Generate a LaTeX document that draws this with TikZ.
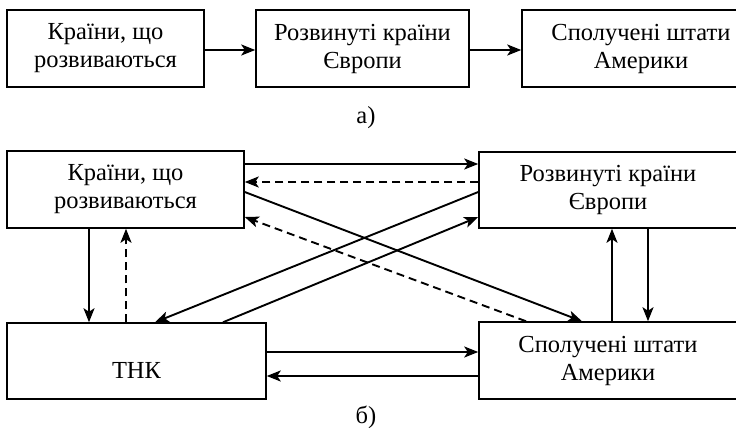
\documentclass[tikz,border=0pt]{standalone}
\usepackage{fontspec}
\setmainfont{Liberation Serif}
\usetikzlibrary{arrows.meta}
\begin{document}
\begin{tikzpicture}[x=1pt,y=-1pt,
  box/.style={draw, line width=1.5pt, align=center, inner sep=0pt, font=\fontsize{24.5}{28}\selectfont},
  arr/.style={line width=1.9pt, -{Stealth[length=14pt,width=11pt,inset=3.5pt]}},
  dsh/.style={arr, dash pattern=on 8pt off 5pt},
  lab/.style={font=\fontsize{24.5}{28}\selectfont}]
\useasboundingbox (0,0) rectangle (736,428);
\clip (0,0) rectangle (736,428);
\fill[white] (0,0) rectangle (736,428);
% top row
\node[box, minimum width=197pt, minimum height=77pt] (a1) at (105.5,48.5) {Країни, що\\розвиваються};
\node[box, minimum width=213pt, minimum height=77pt] (a2) at (362.5,48.5) {Розвинуті країни\\Європи};
\node[box, minimum width=238pt, minimum height=77pt] (a3) at (641,48.5) {Сполучені штати\\Америки};
\draw[arr] (a1.east |- 0,50) -- (a2.west |- 0,50);
\draw[arr] (a2.east |- 0,50) -- (a3.west |- 0,50);
\node[lab] (la) at (366,118) {а)};
% bottom
\node[box, minimum width=237pt, minimum height=77pt] (tl) at (125.5,189.5) {Країни, що\\розвиваються};
\node[box, minimum width=258pt, minimum height=76pt] (tr) at (608,190) {Розвинуті країни\\Європи};
\node[box, minimum width=259pt, minimum height=76pt,
  label={[lab,yshift=-9pt]center:ТНК}] (bl) at (136.5,361) {};
\node[box, minimum width=258pt, minimum height=77pt] (br) at (608,360.5) {Сполучені штати\\Америки};
\draw[arr] (tl.east |- 0,164) -- (tr.west |- 0,164);
\draw[dsh] (tr.west |- 0,182) -- (tl.east |- 0,182);
\draw[arr] (tl.east |- 0,192) -- (br.north -| 582,0);
\draw[dsh] (br.north -| 526,0) -- (tl.east |- 0,217);
\draw[arr] (tr.west |- 0,192) -- (bl.north -| 155,0);
\draw[arr] (bl.north -| 223,0) -- (tr.west |- 0,217);
\draw[arr] (tl.south -| 89,0) -- (bl.north -| 89,0);
\draw[dsh] (bl.north -| 126,0) -- (tl.south -| 126,0);
\draw[arr] (bl.east |- 0,352) -- (br.west |- 0,352);
\draw[arr] (br.west |- 0,376) -- (bl.east |- 0,376);
\draw[arr] (br.north -| 612,0) -- (tr.south -| 612,0);
\draw[arr] (tr.south -| 648,0) -- (br.north -| 648,0);
\node[lab] (lb) at (366,417) {б)};
\end{tikzpicture}
\end{document}
